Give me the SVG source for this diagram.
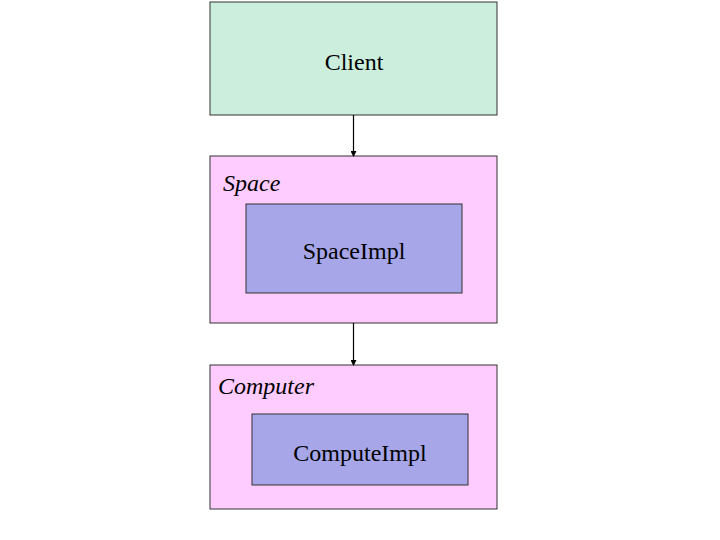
<svg xmlns="http://www.w3.org/2000/svg" width="720" height="540" viewBox="0 0 720 540">
<style>
.box{stroke:#333333;stroke-width:1}
.client{fill:#CCEEDD}
.outer{fill:#FFCCFF}
.inner{fill:#A6A6E8}
text{font-family:"Liberation Serif","Times New Roman",serif;font-size:24px;fill:#000}
.c{text-anchor:middle}
.i{font-style:italic}
.conn{stroke:#000;stroke-width:1.2;fill:none;marker-end:url(#ah)}
</style>
<defs>
<marker id="ah" markerWidth="6" markerHeight="6" refX="5" refY="3" orient="auto" markerUnits="userSpaceOnUse">
<path d="M0,0 L6,3 L0,6 Z" fill="#000"/>
</marker>
</defs>
<rect width="720" height="540" fill="#fff"/>
<g id="client">
<rect class="box client" x="210" y="2" width="287" height="113"/>
<text class="c" x="354" y="70">Client</text>
</g>
<g id="space">
<rect class="box outer" x="210" y="156" width="287" height="167"/>
<text class="i" x="223" y="191">Space</text>
</g>
<g id="spaceimpl">
<rect class="box inner" x="246" y="204" width="216" height="89"/>
<text class="c" x="354" y="259">SpaceImpl</text>
</g>
<g id="computer">
<rect class="box outer" x="210" y="365" width="287" height="144"/>
<text class="i" x="218" y="394">Computer</text>
</g>
<g id="computeimpl">
<rect class="box inner" x="252" y="414" width="216" height="71"/>
<text class="c" x="360" y="461">ComputeImpl</text>
</g>
<g id="connectors">
<line class="conn" x1="353.5" y1="115" x2="353.5" y2="156"/>
<line class="conn" x1="353.5" y1="323" x2="353.5" y2="365"/>
</g>
</svg>
